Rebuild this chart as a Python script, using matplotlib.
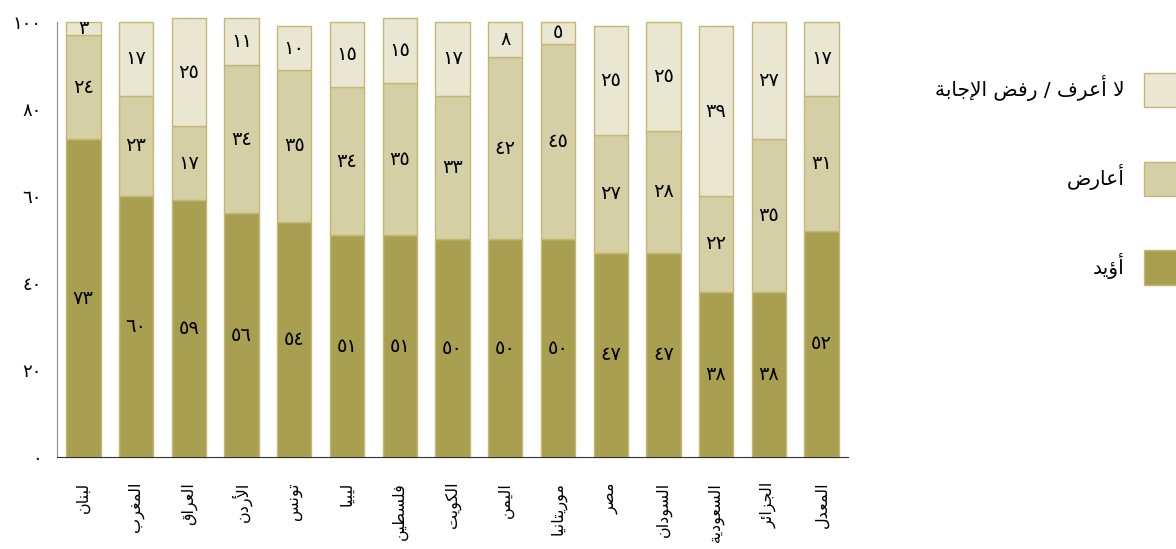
import numpy as np
import matplotlib
matplotlib.use('Agg')
import matplotlib.pyplot as plt
from matplotlib.patches import Patch

countries = ['لبنان', 'المغرب', 'العراق', 'الأردن', 'تونس', 'ليبيا', 'فلسطين', 'الكويت',
             'اليمن', 'موريتانيا', 'مصر', 'السودان', 'السعودية', 'الجزائر', 'المعدل']
support = [73, 60, 59, 56, 54, 51, 51, 50, 50, 50, 47, 47, 38, 38, 52]
oppose = [24, 23, 17, 34, 35, 34, 35, 33, 42, 45, 27, 28, 22, 35, 31]
dont_know = [3, 17, 25, 11, 10, 15, 15, 17, 8, 5, 25, 25, 39, 27, 17]
series_names = ['أؤيد', 'أعارض', 'لا أعرف / رفض الإجابة']
yticks = [0, 20, 40, 60, 80, 100]

colors = ['#A99F50', '#D4CFA5', '#E9E6D2']
edge = '#C4B874'

# matplotlib has no arabic shaping, so map letters to presentation forms by hand
DUAL = {0x0626: 0xFE89, 0x0628: 0xFE8F, 0x062A: 0xFE95, 0x062B: 0xFE99, 0x062C: 0xFE9D,
        0x062D: 0xFEA1, 0x062E: 0xFEA5, 0x0633: 0xFEB1, 0x0634: 0xFEB5, 0x0635: 0xFEB9,
        0x0636: 0xFEBD, 0x0637: 0xFEC1, 0x0638: 0xFEC5, 0x0639: 0xFEC9, 0x063A: 0xFECD,
        0x0641: 0xFED1, 0x0642: 0xFED5, 0x0643: 0xFED9, 0x0644: 0xFEDD, 0x0645: 0xFEE1,
        0x0646: 0xFEE5, 0x0647: 0xFEE9, 0x064A: 0xFEF1}
RIGHT = {0x0622: 0xFE81, 0x0623: 0xFE83, 0x0624: 0xFE85, 0x0625: 0xFE87, 0x0627: 0xFE8D,
         0x0629: 0xFE93, 0x062F: 0xFEA9, 0x0630: 0xFEAB, 0x0631: 0xFEAD, 0x0632: 0xFEAF,
         0x0648: 0xFEED, 0x0649: 0xFEEF}
LAMALEF = {0x0622: 0xFEF5, 0x0623: 0xFEF7, 0x0625: 0xFEF9, 0x0627: 0xFEFB}


def shape(s):
    cs = [ord(c) for c in s]
    n = len(cs)
    out = []
    i = 0
    while i < n:
        c = cs[i]
        prev_joins = i > 0 and cs[i - 1] in DUAL
        if c == 0x0644 and i + 1 < n and cs[i + 1] in LAMALEF:
            out.append(chr(LAMALEF[cs[i + 1]] + (1 if prev_joins else 0)))
            i += 2
            continue
        if c in DUAL or c in RIGHT:
            base = DUAL.get(c, RIGHT.get(c))
            next_joins = c in DUAL and i + 1 < n and (cs[i + 1] in DUAL or cs[i + 1] in RIGHT)
            if prev_joins and next_joins:
                out.append(chr(base + 3))
            elif prev_joins:
                out.append(chr(base + 1))
            elif next_joins:
                out.append(chr(base + 2))
            else:
                out.append(chr(base))
        else:
            out.append(s[i])
        i += 1
    return ''.join(reversed(out))


def ar_num(v):
    return str(v).translate(str.maketrans('0123456789', '٠١٢٣٤٥٦٧٨٩'))


plt.rcParams['font.family'] = ['DejaVu Sans']

fig = plt.figure(figsize=(11.76, 5.49), dpi=100)
ax = fig.add_axes([57 / 1176, 1 - 457 / 549, (848 - 57) / 1176, 435 / 549])

x = np.arange(len(countries))
bottom = np.zeros(len(countries))
handles = []
for vals, col, name in zip([support, oppose, dont_know], colors, series_names):
    vals = np.array(vals)
    ax.bar(x, vals, 0.65, bottom=bottom, color=col, edgecolor=edge,
           linewidth=1, clip_on=False)
    for xi, b, v in zip(x, bottom, vals):
        ax.text(xi, b + v / 2, ar_num(v), ha='center', va='center', fontsize=14)
    handles.append(Patch(facecolor=col, edgecolor=edge, label=shape(name)))
    bottom += vals

ax.set_xlim(-0.5, 14.5)
ax.set_ylim(0, 100)
ax.set_yticks(yticks)
ax.set_yticklabels([ar_num(v) for v in yticks], fontsize=13)
ax.set_xticks(x)
ax.set_xticklabels([shape(c) for c in countries], rotation=90, fontsize=11.5)
ax.tick_params(axis='y', length=0, pad=11)
ax.tick_params(axis='x', length=0, pad=18)
for s in ['top', 'right']:
    ax.spines[s].set_visible(False)
ax.spines['left'].set_color('#888888')
ax.spines['bottom'].set_color('#333333')

ax.legend(handles=handles[::-1], markerfirst=False, frameon=False,
          loc='upper right', bbox_to_anchor=(1199 / 1176, 1 - 63 / 549),
          bbox_transform=fig.transFigure, fontsize=14.5,
          handlelength=2.23, handleheight=2.24, labelspacing=2.7,
          handletextpad=0.95, borderpad=0)

fig.savefig('out.png', dpi=100)
